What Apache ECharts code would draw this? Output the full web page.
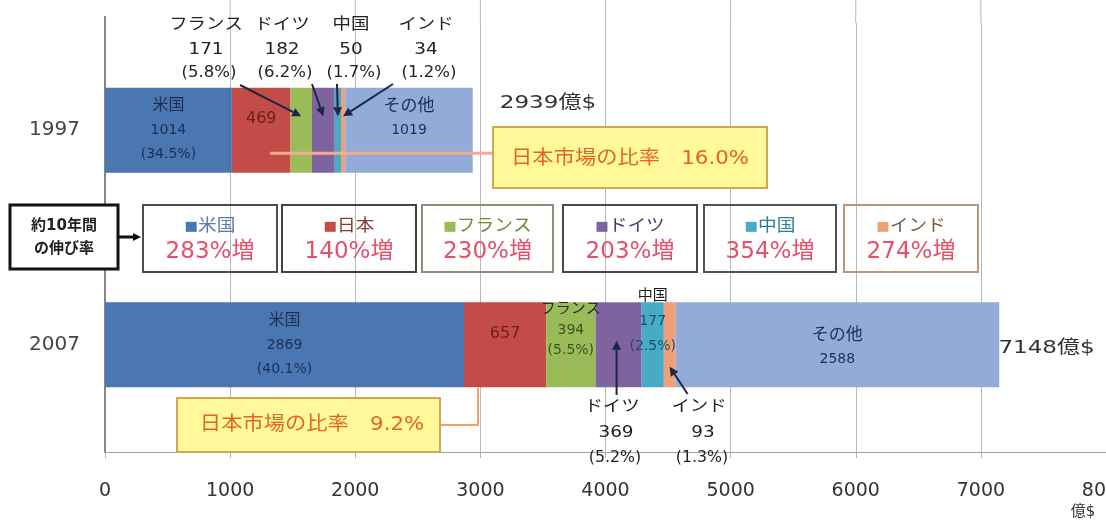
<!DOCTYPE html>
<html><head><meta charset="utf-8">
<script src="https://cdn.jsdelivr.net/npm/echarts@6/dist/echarts.min.js"></script>
<style>html,body{margin:0;padding:0;background:#fff}#c{width:1106px;height:523px}</style>
</head><body><div id="c"></div>
<script>
// ---- data ----
const years = ['1997', '2007'];
const countries = ['米国', '日本', 'フランス', 'ドイツ', '中国', 'インド', 'その他'];
const usa = [1014, 2869];
const japan = [469, 657];
const france = [171, 394];
const germany = [182, 369];
const china = [50, 177];
const india = [34, 93];
const others = [1019, 2588];
const totals = [2939, 7148];
const growthLabels = ['283%増', '140%増', '230%増', '203%増', '354%増', '274%増'];
const unitLabel = '億$';

// ---- style ----
const FONT = '"DejaVu Sans","Noto Sans CJK JP",sans-serif';
const colors = ['#4A76B1', '#C34C49', '#9BBB59', '#7F63A1', '#47AAC6', '#EFA077', '#93ABD9'];
const nameColors = ['#5a7ca8', '#8a3a3a', '#6a8c3a', '#4a3e66', '#2f7f98', '#7a5a40'];
const boxBorders = ['#4c4c4c', '#4a4040', '#8e8e78', '#4a4650', '#4b555c', '#b9977a'];
const seriesData = [usa, japan, france, germany, china, india, others];
const pct = (v, i) => (v / totals[i] * 100).toFixed(1);

function cum(i, k) { let s = 0; for (let j = 0; j < k; j++) s += seriesData[j][i]; return s; }

function labelFor(k, i) {
  const v = seriesData[k][i];
  const base = { show: true, position: 'inside', fontFamily: FONT };
  if (k === 0) return Object.assign(base, {
    formatter: '{n|' + countries[0] + '}\n{v|' + v + '}\n{v|(' + pct(v, i) + '%)}',
    rich: { n: { fontSize: 16, color: '#1d2f55', lineHeight: 25, fontFamily: FONT }, v: { fontSize: 14, color: '#1d2f55', lineHeight: 24, fontFamily: FONT } }
  });
  if (k === 1) return Object.assign(base, { formatter: String(v), color: '#6e1c1c', fontSize: 16, offset: [0, -11] });
  if (k === 2 && i === 1) return Object.assign(base, {
    formatter: '{n|' + countries[2] + '}\n{v|' + v + '}\n{v|(' + pct(v, i) + '%)}',
    offset: [0, -16],
    rich: { n: { fontSize: 15, color: '#2a2a2a', lineHeight: 24, fontFamily: FONT }, v: { fontSize: 14, color: '#3d5220', lineHeight: 20, fontFamily: FONT } }
  });
  if (k === 4 && i === 1) return Object.assign(base, {
    formatter: '{n|' + countries[4] + '}\n{v|' + v + '}\n{v|(' + pct(v, i) + '%)}',
    offset: [0, -24],
    rich: { n: { fontSize: 15, color: '#1a1a1a', lineHeight: 26, fontFamily: FONT }, v: { fontSize: 14, color: '#1d4f66', lineHeight: 25, fontFamily: FONT } }
  });
  if (k === 6) return Object.assign(base, {
    formatter: '{n|' + countries[6] + '}\n{v|' + v + '}',
    offset: [0, i === 0 ? -13 : 2],
    rich: { n: { fontSize: 17, color: '#1d2f55', lineHeight: 26, fontFamily: FONT }, v: { fontSize: 14, color: '#1d2f55', lineHeight: 22, fontFamily: FONT } }
  });
  return { show: false };
}

const series = countries.map((c, k) => ({
  name: c, type: 'bar', stack: 'total', barWidth: 85,
  itemStyle: { color: colors[k] },
  data: seriesData[k].map((v, i) => ({ value: v, label: labelFor(k, i) })),
  emphasis: { disabled: true }
}));

const option = {
  animation: false,
  backgroundColor: '#ffffff',
  grid: { left: 105, right: 0, top: 23, bottom: 71, containLabel: false, outerBoundsMode: 'none' },
  xAxis: {
    type: 'value', min: 0, max: 8000, interval: 1000,
    axisLine: { show: true, lineStyle: { color: '#a0a0a0', width: 1 } },
    axisTick: { show: true, length: 6, lineStyle: { color: '#b0b0b0' } },
    splitLine: { show: true, lineStyle: { color: '#b8b8b8', width: 1 } },
    axisLabel: { fontFamily: FONT, fontSize: 19, color: '#333', margin: 30, formatter: v => String(v), showMaxLabel: true }
  },
  yAxis: {
    type: 'category', data: years, inverse: true,
    axisLine: { show: true, lineStyle: { color: '#858585', width: 2 } },
    axisTick: { show: false },
    axisLabel: { fontFamily: FONT, fontSize: 20, color: '#444', margin: 25 }
  },
  series: series
};

const chart = echarts.init(document.getElementById('c'), null, { renderer: 'canvas' });
chart.setOption(option);

const px = (v, i) => chart.convertToPixel({ gridIndex: 0 }, [v, i]);

function arrow(x1, y1, x2, y2, color, w, head) {
  const ang = Math.atan2(y2 - y1, x2 - x1);
  const h = head || 9, hw = h * 0.5;
  const bx = x2 - h * Math.cos(ang), by = y2 - h * Math.sin(ang);
  const nx = -Math.sin(ang), ny = Math.cos(ang);
  return [
    { type: 'line', shape: { x1: x1, y1: y1, x2: bx, y2: by }, style: { stroke: color, lineWidth: w }, z: 100 },
    { type: 'polygon', shape: { points: [[x2, y2], [bx + nx * hw, by + ny * hw], [bx - nx * hw, by - ny * hw]] }, style: { fill: color }, z: 100 }
  ];
}
function txt(x, y, text, size, fill, extra) {
  return Object.assign({
    type: 'text', x: x, y: y, z: 110,
    style: Object.assign({ text: text, fontSize: size, fontFamily: FONT, fill: fill, align: 'center', textAlign: 'center', verticalAlign: 'middle', textVerticalAlign: 'middle' }, extra && extra.style || {})
  }, extra && extra.el || {});
}

const g = [];
const c97 = px(0, 0)[1], c07 = px(0, 1)[1];

// gridline extension above plot
for (let t = 1000; t <= 7000; t += 1000) {
  const x = px(t, 0)[0];
  g.push({ type: 'line', shape: { x1: x, y1: 0, x2: x, y2: 23 }, style: { stroke: '#b8b8b8', lineWidth: 1 }, z: 0 });
}
g.push({ type: 'line', shape: { x1: 105, y1: 16, x2: 105, y2: 23 }, style: { stroke: '#858585', lineWidth: 2 }, z: 0 });

// 1997 callouts above (France, Germany, China, India)
const topLabelX = [206, 282, 351, 426];
const tipFrom = [[240, 85], [312, 84], [337, 84], [393, 84]];
[2, 3, 4, 5].forEach((k, j) => {
  const v = seriesData[k][0];
  g.push(txt(topLabelX[j], 25, countries[k], 16, '#222', { el: { scaleX: 1.15 } }));
  g.push(txt(topLabelX[j], 50, String(v), 16, '#222', { el: { scaleX: 1.15 } }));
  g.push(txt(topLabelX[j] + 3, 73, '(' + pct(v, 0) + '%)', 15, '#222', { el: { scaleX: 1.1 } }));
  const tipX = px(cum(0, k) + v / 2, 0)[0];
  g.push(...arrow(tipFrom[j][0], tipFrom[j][1], tipX, c97 - 14, '#1c2744', 2, 9));
});

// 2007 callouts below (Germany, India)
[[3, 612], [5, 699]].forEach(([k, lx]) => {
  const v = seriesData[k][1];
  g.push(txt(lx, 407, countries[k], 16, '#222', { el: { scaleX: 1.15 } }));
  g.push(txt(lx + 4, 433, String(v), 16, '#222', { el: { scaleX: 1.15 } }));
  g.push(txt(lx + 3, 458, '(' + pct(v, 1) + '%)', 15, '#222', { el: { scaleX: 1.05 } }));
});
{
  const gx = px(cum(1, 3) + germany[1] / 2, 1)[0];
  g.push(...arrow(gx - 2, 395, gx - 2, c07 - 4, '#1c2744', 2, 9));
  const ix = px(cum(1, 5) + india[1] / 2, 1)[0];
  g.push(...arrow(ix + 18, 394, ix, c07 + 22, '#1c2744', 2, 9));
}

// totals
g.push(txt(px(totals[0], 0)[0] + 27, c97 - 27, totals[0] + unitLabel, 18, '#333',
  { style: { align: 'left', textAlign: 'left' }, el: { scaleX: 1.28 } }));
g.push(txt(px(totals[1], 1)[0] - 1, c07 + 4, totals[1] + unitLabel, 18, '#333',
  { style: { align: 'left', textAlign: 'left' }, el: { scaleX: 1.28 } }));

// Japan share boxes
const share97 = pct(japan[0], 0), share07 = pct(japan[1], 1);
{
  const sx = px(usa[0] + japan[0] * 0.65, 0)[0];
  g.push({ type: 'line', shape: { x1: sx, y1: c97 + 23, x2: 493, y2: c97 + 23 }, style: { stroke: '#f2ad8c', lineWidth: 3 }, z: 90 });
  g.push({ type: 'rect', shape: { x: 493, y: 127, width: 274, height: 61 }, style: { fill: '#FFF99C', stroke: '#D3A74E', lineWidth: 2 }, z: 95 });
  g.push(txt(630, 159, '日本市場の比率　' + share97 + '%', 19, '#E4661E', { el: { scaleX: 1.12 } }));

  const lx = px(usa[1] + japan[1] * 0.17, 1)[0];
  const barBottom = c07 + 43;
  g.push({ type: 'polyline', shape: { points: [[440, 425], [lx, 425], [lx, barBottom]] }, style: { stroke: '#e8a46c', lineWidth: 2, fill: null }, z: 90 });
  g.push({ type: 'rect', shape: { x: 177, y: 398, width: 263, height: 54 }, style: { fill: '#FFF99C', stroke: '#D3A74E', lineWidth: 2 }, z: 95 });
  g.push(txt(312, 425, '日本市場の比率　' + share07 + '%', 19, '#E4661E', { el: { scaleX: 1.12 } }));
}

// growth label row
g.push({ type: 'rect', shape: { x: 10, y: 205, width: 108, height: 64 }, style: { fill: '#fff', stroke: '#111', lineWidth: 3 }, z: 95 });
g.push(txt(64, 226, '約10年間', 15, '#222', { style: { fontWeight: 'bold' } }));
g.push(txt(64, 249, 'の伸び率', 15, '#222', { style: { fontWeight: 'bold' } }));
g.push(...arrow(118, 237, 141, 237, '#111', 3, 8));

const boxX = [143, 282, 422, 563, 704, 844];
const boxW = [134, 134, 131, 134, 132, 134];
for (let k = 0; k < 6; k++) {
  const x = boxX[k], w = boxW[k], cx = x + w / 2;
  g.push({ type: 'rect', shape: { x: x, y: 205, width: w, height: 67 }, style: { fill: 'rgba(255,255,255,0)', stroke: boxBorders[k], lineWidth: 2 }, z: 95 });
  g.push({
    type: 'text', x: cx, y: 227, z: 110, scaleX: 1.1,
    style: {
      text: '{s|■}{n|' + countries[k] + '}', align: 'center', textAlign: 'center', verticalAlign: 'middle', textVerticalAlign: 'middle',
      rich: { s: { fontSize: 13, fill: colors[k], color: colors[k], fontFamily: FONT }, n: { fontSize: 17, fill: nameColors[k], color: nameColors[k], fontFamily: FONT } }
    }
  });
  g.push(txt(cx, 252, growthLabels[k], 23, '#E4506A'));
}

// unit
g.push(txt(1083, 512, unitLabel, 15, '#333'));

chart.setOption({ graphic: { elements: g } });
</script>
</body></html>
